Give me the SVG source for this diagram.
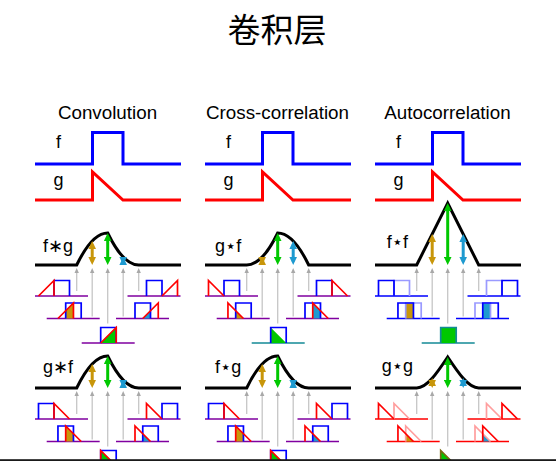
<svg xmlns="http://www.w3.org/2000/svg" xmlns:xlink="http://www.w3.org/1999/xlink" width="556" height="461" viewBox="0 0 556 461">
<defs>
<style>
.t{font-family:"Liberation Sans","DejaVu Sans",Arial,sans-serif;font-size:18px;fill:#000}
.h{text-anchor:middle}
.ct{font-size:18.8px}
.f{fill:none;stroke:#0000ff;stroke-width:3}
.g{fill:none;stroke:#ff0000;stroke-width:3}
.c{fill:none;stroke:#000;stroke-width:3}
.sb{fill:none;stroke:#0000ff;stroke-width:1.7}
.sr{fill:none;stroke:#ff0000;stroke-width:1.7}
.lb{fill:none;stroke:#9a9aff;stroke-width:1.7}
.lr{fill:none;stroke:#ff9e9e;stroke-width:1.7}
.bp{fill:none;stroke:#8000a0;stroke-width:1.7}
.bb{fill:none;stroke:#0000ff;stroke-width:1.7}
.br{fill:none;stroke:#ff0000;stroke-width:1.7}
.bt{fill:none;stroke:#138a96;stroke-width:1.7}
.gl{fill:none;stroke:#c6c6c6;stroke-width:1.3;marker-start:url(#mg)}
.a1{stroke:#c8960a;stroke-width:3;marker-start:url(#m1);marker-end:url(#m1)}
.a2{stroke:#00c800;stroke-width:3;marker-start:url(#m2);marker-end:url(#m2)}
.a3{stroke:#1e9ad0;stroke-width:3;marker-start:url(#m3);marker-end:url(#m3)}
.F1{fill:#c8960a}
.F2{fill:#00c800}
.F3{fill:#1e9ad0}
</style>
<marker id="m1" viewBox="-5 -4 9 8" refX="0" refY="0" markerWidth="9" markerHeight="8" markerUnits="userSpaceOnUse" orient="auto-start-reverse"><path d="M3.5,0 L-4.5,-3.8 L-4.5,3.8 Z" fill="#c8960a"/></marker>
<marker id="m2" viewBox="-5 -4 9 8" refX="0" refY="0" markerWidth="9" markerHeight="8" markerUnits="userSpaceOnUse" orient="auto-start-reverse"><path d="M3.5,0 L-4.5,-3.8 L-4.5,3.8 Z" fill="#00c800"/></marker>
<marker id="m3" viewBox="-5 -4 9 8" refX="0" refY="0" markerWidth="9" markerHeight="8" markerUnits="userSpaceOnUse" orient="auto-start-reverse"><path d="M3.5,0 L-4.5,-3.8 L-4.5,3.8 Z" fill="#1e9ad0"/></marker>
<marker id="mg" viewBox="-3 -3 6 6" refX="0" refY="0" markerWidth="6" markerHeight="6" markerUnits="userSpaceOnUse" orient="auto-start-reverse"><path d="M2.5,0 L-2.5,-2.2 L-2.5,2.2 Z" fill="#a8a8a8"/></marker>
<g id="fg">
<path class="f" d="M35,164 H92.5 V132.5 H123 V164 H181"/>
<path class="g" d="M35,200 H92.5 V172 L123,200 H181"/>
<text class="t h" x="58.5" y="148">f</text>
<text class="t h" x="58.5" y="186">g</text>
</g>
<g id="gray">
<path class="gl" d="M76.7,270.5 V291"/>
<path class="gl" d="M92.2,270.5 V316.5"/>
<path class="gl" d="M107.7,270.5 V323.5"/>
<path class="gl" d="M123.2,270.5 V316.5"/>
<path class="gl" d="M138.7,270.5 V291"/>
</g>
</defs>

<text id="title" x="277" y="41.5" text-anchor="middle" style="font-family:'Noto Sans CJK SC',sans-serif;font-size:33px;fill:#000">卷积层</text>

<!-- Column 1: Convolution -->
<g id="col-convolution">
<text class="t h ct" x="107.5" y="119">Convolution</text>
<use xlink:href="#fg"/>
<g id="conv-fg">
<text class="t" x="43" y="252">f∗g</text>
<path class="c" d="M35,265 H76.7 Q92.2,233 107.7,233 Q123.2,265 138.7,265 H181"/>
<use xlink:href="#gray"/>
<line class="a1" x1="92.2" y1="244.5" x2="92.2" y2="261.5"/>
<line class="a2" x1="107.7" y1="236.5" x2="107.7" y2="261.5"/>
<line class="a3" x1="123.2" y1="260.5" x2="123.2" y2="261.5"/>
<path class="bp" d="M35,296 H88 M46.7,318.5 H99.7 M81.7,343 H134.7 M116,318.5 H169 M127.5,296 H180.5"/>
<path class="F1" d="M65.7,318.5 V310.75 L73.45,303 V318.5 Z"/>
<path class="F2" d="M100.7,343 L116.2,327.5 V343 Z"/>
<path class="F3" d="M142.75,318.5 L150.5,310.75 V318.5 Z"/>
<path class="sb" d="M54,296 V280.5 H69.5 V296 M65.7,318.5 V303 H81.2 V318.5 M100.7,343 V327.5 H116.2 V343 M135,318.5 V303 H150.5 V318.5 M146.5,296 V280.5 H162 V296"/>
<path class="sr" d="M38.5,296 L54,280.5 V296 M57.95,318.5 L73.45,303 V318.5 M100.7,343 L116.2,327.5 V343 M142.75,318.5 L158.25,303 V318.5 M162,296 L177.5,280.5 V296"/>
</g>
<g id="conv-gf" transform="translate(0,123)">
<text class="t" x="43" y="250">g∗f</text>
<path class="c" d="M35,265 H76.7 Q92.2,233 107.7,233 Q123.2,265 138.7,265 H181"/>
<use xlink:href="#gray"/>
<line class="a1" x1="92.2" y1="244.5" x2="92.2" y2="261.5"/>
<line class="a2" x1="107.7" y1="236.5" x2="107.7" y2="261.5"/>
<line class="a3" x1="123.2" y1="260.5" x2="123.2" y2="261.5"/>
<path class="bp" d="M35,296 H88 M46.7,318.5 H99.7 M81.7,343 H134.7 M116,318.5 H169 M127.5,296 H180.5"/>
<path class="F1" d="M65.7,318.5 V303 L73.45,310.75 V318.5 Z"/>
<path class="F2" d="M100.7,343 V327.5 L116.2,343 Z"/>
<path class="F3" d="M142.75,318.5 V310.75 L150.5,318.5 Z"/>
<path class="sb" d="M38.5,296 V280.5 H54 V296 M57.95,318.5 V303 H73.45 V318.5 M100.7,343 V327.5 H116.2 V343 M142.75,318.5 V303 H158.25 V318.5 M162,296 V280.5 H177.5 V296"/>
<path class="sr" d="M54,296 V280.5 L69.5,296 M65.7,318.5 V303 L81.2,318.5 M100.7,343 V327.5 L116.2,343 M135,318.5 V303 L150.5,318.5 M146.5,296 V280.5 L162,296"/>
</g>
</g>

<!-- Column 2: Cross-correlation -->
<g id="col-crosscorrelation" transform="translate(170,0)">
<text class="t h ct" x="107.5" y="119">Cross-correlation</text>
<use xlink:href="#fg"/>
<g id="xcorr-gf">
<text class="t" x="45" y="252">g⋆f</text>
<path class="c" d="M35,265 H76.7 Q92.2,265 107.7,233 Q123.2,233 138.7,265 H181"/>
<use xlink:href="#gray"/>
<line class="a1" x1="92.2" y1="260.5" x2="92.2" y2="261.5"/>
<line class="a2" x1="107.7" y1="236.5" x2="107.7" y2="261.5"/>
<line class="a3" x1="123.2" y1="244.5" x2="123.2" y2="261.5"/>
<path class="bp" d="M35,296 H88 M46.7,318.5 H99.7 M116,318.5 H169 M127.5,296 H180.5"/>
<path class="bt" d="M81.7,343 H134.7"/>
<path class="F1" d="M65.7,318.5 V310.75 L73.45,318.5 Z"/>
<path class="F2" d="M100.7,343 V327.5 L116.2,343 Z"/>
<path class="F3" d="M142.75,318.5 V303 L150.5,310.75 V318.5 Z"/>
<path class="sb" d="M54,296 V280.5 H69.5 V296 M65.7,318.5 V303 H81.2 V318.5 M100.7,343 V327.5 H116.2 V343 M135,318.5 V303 H150.5 V318.5 M146.5,296 V280.5 H162 V296"/>
<path class="sr" d="M38.5,296 V280.5 L54,296 M57.95,318.5 V303 L73.45,318.5 M142.75,318.5 V303 L158.25,318.5 M162,296 V280.5 L177.5,296"/>
</g>
<g id="xcorr-fg" transform="translate(0,123)">
<text class="t" x="45" y="250">f⋆g</text>
<path class="c" d="M35,265 H76.7 Q92.2,233 107.7,233 Q123.2,265 138.7,265 H181"/>
<use xlink:href="#gray"/>
<line class="a1" x1="92.2" y1="244.5" x2="92.2" y2="261.5"/>
<line class="a2" x1="107.7" y1="236.5" x2="107.7" y2="261.5"/>
<line class="a3" x1="123.2" y1="260.5" x2="123.2" y2="261.5"/>
<path class="bp" d="M35,296 H88 M46.7,318.5 H99.7 M81.7,343 H134.7 M116,318.5 H169 M127.5,296 H180.5"/>
<path class="F1" d="M65.7,318.5 V303 L73.45,310.75 V318.5 Z"/>
<path class="F2" d="M100.7,343 V327.5 L116.2,343 Z"/>
<path class="F3" d="M142.75,318.5 V310.75 L150.5,318.5 Z"/>
<path class="sb" d="M38.5,296 V280.5 H54 V296 M57.95,318.5 V303 H73.45 V318.5 M100.7,343 V327.5 H116.2 V343 M142.75,318.5 V303 H158.25 V318.5 M162,296 V280.5 H177.5 V296"/>
<path class="sr" d="M54,296 V280.5 L69.5,296 M65.7,318.5 V303 L81.2,318.5 M100.7,343 V327.5 L116.2,343 M135,318.5 V303 L150.5,318.5 M146.5,296 V280.5 L162,296"/>
</g>
</g>

<!-- Column 3: Autocorrelation -->
<g id="col-autocorrelation" transform="translate(340,0)">
<text class="t h ct" x="107.5" y="119">Autocorrelation</text>
<use xlink:href="#fg"/>
<g id="auto-ff">
<text class="t" x="46.7" y="248">f⋆f</text>
<path class="c" d="M35,265 H76.7 L107.7,203 L138.7,265 H181"/>
<use xlink:href="#gray"/>
<line class="a1" x1="92.2" y1="237.5" x2="92.2" y2="261.5"/>
<line class="a2" x1="107.7" y1="206.5" x2="107.7" y2="261.5"/>
<line class="a3" x1="123.2" y1="237.5" x2="123.2" y2="261.5"/>
<path class="bb" d="M35,296 H88 M46.7,318.5 H99.7 M116,318.5 H169 M127.5,296 H180.5"/>
<path class="bt" d="M81.7,343 H134.7"/>
<rect class="F1" x="65.7" y="303" width="7.75" height="15.5"/>
<rect class="F2" x="100.7" y="327.5" width="15.5" height="15.5"/>
<rect class="F3" x="142.75" y="303" width="7.75" height="15.5"/>
<path class="lb" d="M54,296 V280.5 H69.5 V296 M65.7,318.5 V303 H81.2 V318.5 M135,318.5 V303 H150.5 V318.5 M146.5,296 V280.5 H162 V296"/>
<path class="sb" d="M38.5,296 V280.5 H54 V296 M57.95,318.5 V303 H73.45 V318.5 M142.75,318.5 V303 H158.25 V318.5 M162,296 V280.5 H177.5 V296"/>
<path class="bt" d="M100.7,343 V327.5 H116.2 V343"/>
</g>
<g id="auto-gg" transform="translate(0,123)">
<text class="t" x="41.7" y="249">g⋆g</text>
<path class="c" d="M35,265 H76.7 C87.03,265 97.37,249.5 107.7,234 C118.03,249.5 128.37,265 138.7,265 H181"/>
<use xlink:href="#gray"/>
<line class="a1" x1="92.2" y1="258.5" x2="92.2" y2="261.5"/>
<line class="a2" x1="107.7" y1="237.5" x2="107.7" y2="261.5"/>
<line class="a3" x1="123.2" y1="258.5" x2="123.2" y2="261.5"/>
<path class="br" d="M35,296 H88 M46.7,318.5 H99.7 M81.7,343 H134.7 M116,318.5 H169 M127.5,296 H180.5"/>
<path class="F1" d="M65.7,318.5 V310.75 L73.45,318.5 Z"/>
<path class="F2" d="M100.7,343 V327.5 L116.2,343 Z"/>
<path class="F3" d="M142.75,318.5 V310.75 L150.5,318.5 Z"/>
<path class="lr" d="M54,296 V280.5 L69.5,296 M65.7,318.5 V303 L81.2,318.5 M135,318.5 V303 L150.5,318.5 M146.5,296 V280.5 L162,296"/>
<path class="sr" d="M38.5,296 V280.5 L54,296 M57.95,318.5 V303 L73.45,318.5 M142.75,318.5 V303 L158.25,318.5 M162,296 V280.5 L177.5,296"/>
<path fill="none" stroke="#7a6a10" stroke-width="1.7" d="M100.7,343 V327.5 L116.2,343"/>
</g>
</g>

<rect id="bottom-edge" x="0" y="459.2" width="556" height="1.8" fill="#1a1a1a"/>
</svg>
